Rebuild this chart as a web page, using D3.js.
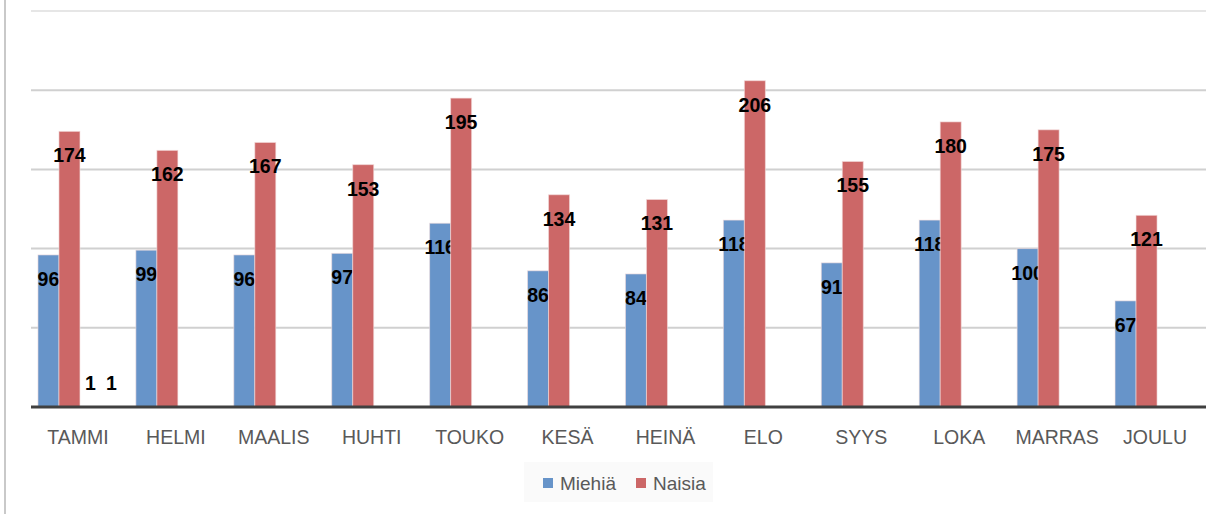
<!DOCTYPE html>
<html>
<head>
<meta charset="utf-8">
<script src="https://cdn.jsdelivr.net/npm/d3@7"></script>
<style>
  body { margin: 0; background: #fff; }
  svg { display: block; }
</style>
</head>
<body>
<div id="chart"></div>
<script>
// data
const months = ["TAMMI", "HELMI", "MAALIS", "HUHTI", "TOUKO", "KESÄ", "HEINÄ", "ELO", "SYYS", "LOKA", "MARRAS", "JOULU"]
const miehia = [96, 99, 96, 97, 116, 86, 84, 118, 91, 118, 100, 67]
const naisia = [174, 162, 167, 153, 195, 134, 131, 206, 155, 180, 175, 121]
// two extra series that only show their "1" labels in TAMMI
const extraA = [1, null, null, null, null, null, null, null, null, null, null, null]
const extraB = [1, null, null, null, null, null, null, null, null, null, null, null]
const yTicks = [0, 50, 100, 150, 200, 250]

const W = 1225, H = 514
const plot = { left: 31, right: 1206, top: 11, bottom: 407 }

const series = [
    { name: "Miehiä", values: miehia, color: "#6794c9", legend: true },
    { name: "Naisia", values: naisia, color: "#cc6767", legend: true },
    { name: "s3", values: extraA, color: "none", legend: false },
    { name: "s4", values: extraB, color: "none", legend: false }
]

const svg = d3.select("#chart").append("svg")
    .attr("width", W)
    .attr("height", H)

// outer frame line on the left
svg.append("line")
    .attr("x1", 5).attr("x2", 5)
    .attr("y1", 0).attr("y2", H)
    .attr("stroke", "#c9c9c9")
    .attr("stroke-width", 2)

const x = d3.scaleBand()
    .domain(months)
    .range([plot.left, plot.right])
    .paddingInner(0.142)
    .paddingOuter(0.071)

const xs = d3.scaleBand()
    .domain(series.map(s => s.name))
    .range([0, x.bandwidth()])

const y = d3.scaleLinear()
    .domain([0, 250])
    .range([plot.bottom, plot.top])

// gridlines
svg.append("g")
    .selectAll("line")
    .data(yTicks.filter(t => t > 0))
    .enter()
    .append("line")
    .attr("x1", plot.left).attr("x2", plot.right)
    .attr("y1", d => y(d)).attr("y2", d => y(d))
    .attr("stroke", d => d === 250 ? "#e6e6e6" : "#d0d0d0")
    .attr("stroke-width", 2)

// bars
const groups = svg.append("g")
    .selectAll("g")
    .data(series)
    .enter()
    .append("g")

groups.selectAll("rect")
    .data(s => s.values.map((v, i) => ({ v, m: months[i], s })))
    .enter()
    .filter(d => d.v != null && d.s.color !== "none")
    .append("rect")
    .attr("x", d => x(d.m) + xs(d.s.name))
    .attr("y", d => y(d.v))
    .attr("width", xs.bandwidth())
    .attr("height", d => y(0) - y(d.v))
    .attr("fill", d => d.s.color)
    .attr("stroke", "#f3dede")
    .attr("stroke-opacity", 0.6)
    .attr("stroke-width", 1)

// baseline
svg.append("line")
    .attr("x1", plot.left).attr("x2", plot.right)
    .attr("y1", y(0)).attr("y2", y(0))
    .attr("stroke", "#404040")
    .attr("stroke-width", 3)

// value labels (inside end)
groups.selectAll("text")
    .data(s => s.values.map((v, i) => ({ v, m: months[i], s })))
    .enter()
    .filter(d => d.v != null)
    .append("text")
    .attr("x", d => x(d.m) + xs(d.s.name) + xs.bandwidth() / 2)
    .attr("y", d => Math.min(y(d.v) + 24, y(0) - 24))
    .attr("text-anchor", "middle")
    .attr("dominant-baseline", "central")
    .style("font-family", "'Liberation Sans', Arial, sans-serif")
    .style("font-weight", "bold")
    .style("font-size", "19.5px")
    .style("fill", "#000")
    .text(d => d.v)

// x axis labels
svg.append("g")
    .selectAll("text")
    .data(months)
    .enter()
    .append("text")
    .attr("x", d => x(d) + x.bandwidth() / 2 - 2)
    .attr("y", 437)
    .attr("text-anchor", "middle")
    .attr("dominant-baseline", "central")
    .style("font-family", "'Liberation Sans', Arial, sans-serif")
    .style("font-size", "19.5px")
    .style("fill", "#595959")
    .text(d => d)

// legend
const legend = svg.append("g")
legend.append("rect")
    .attr("x", 524).attr("y", 462)
    .attr("width", 189).attr("height", 40)
    .attr("fill", "#fafafa")

const items = series.filter(s => s.legend)
const itemX = [543, 636]
items.forEach((s, i) => {
    legend.append("rect")
        .attr("x", itemX[i]).attr("y", 478)
        .attr("width", 10).attr("height", 10)
        .attr("fill", s.color)
    legend.append("text")
        .attr("x", itemX[i] + 17)
        .attr("y", 483)
        .attr("dominant-baseline", "central")
        .style("font-family", "'Liberation Sans', Arial, sans-serif")
        .style("font-size", "19px")
        .style("fill", "#595959")
        .text(s.name)
})
</script>
</body>
</html>
